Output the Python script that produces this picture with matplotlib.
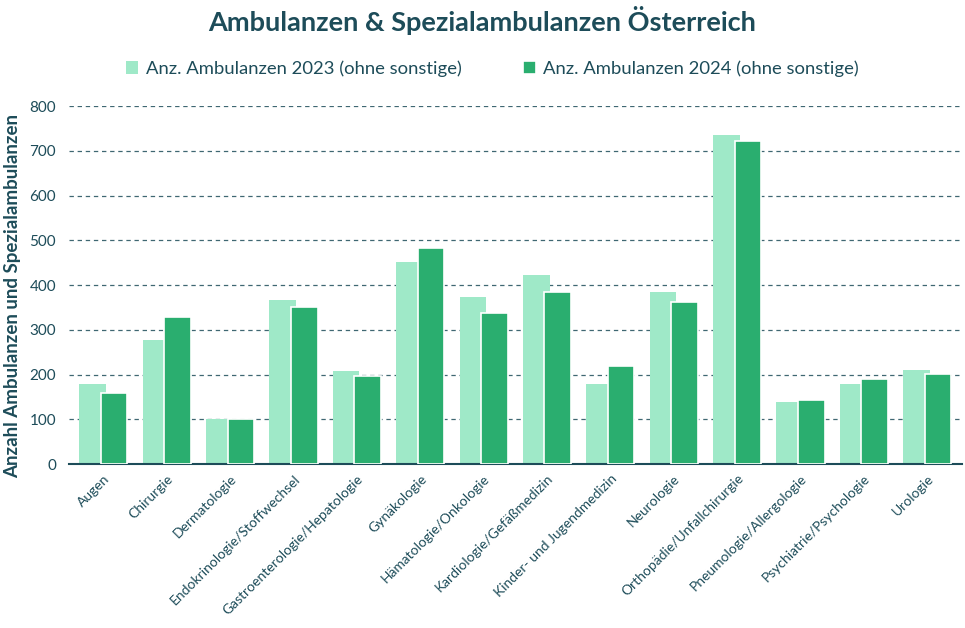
import matplotlib
matplotlib.use("Agg")
import matplotlib.pyplot as plt
import numpy as np

plt.rcParams['font.family'] = ['Lato', 'DejaVu Sans']

# data
categories = ["Augen", "Chirurgie", "Dermatologie", "Endokrinologie/Stoffwechsel",
              "Gastroenterologie/Hepatologie", "Gynäkologie", "Hämatologie/Onkologie",
              "Kardiologie/Gefäßmedizin", "Kinder- und Jugendmedizin", "Neurologie",
              "Orthopädie/Unfallchirurgie", "Pneumologie/Allergologie",
              "Psychiatrie/Psychologie", "Urologie"]
ambulanzen_2023 = [180, 277, 100, 367, 208, 452, 373, 423, 180, 385, 735, 139, 180, 211]
ambulanzen_2024 = [158, 328, 100, 352, 197, 482, 337, 385, 219, 362, 721, 143, 190, 201]
labels = ["Anz. Ambulanzen 2023 (ohne sonstige)", "Anz. Ambulanzen 2024 (ohne sonstige)"]

TEAL = "#1d4c59"
LIGHT = "#9fe9c8"
DARK = "#2aae6f"

fig, ax = plt.subplots(figsize=(9.65, 6.28), dpi=100)
fig.subplots_adjust(left=0.071, right=0.997, top=0.831, bottom=0.261)

x = np.arange(len(categories))
w = 0.42
ax.bar(x - 0.17, ambulanzen_2023, width=w, color=LIGHT, label=labels[0], zorder=2)
ax.bar(x + 0.17, ambulanzen_2024, width=w, color=DARK, edgecolor="white",
       linewidth=1.2, label=labels[1], zorder=3)

ax.set_ylim(0, 800)
ax.set_xlim(-0.55, len(categories) - 0.45)
ax.set_yticks(range(0, 801, 100))
ax.yaxis.grid(True, linestyle=(0, (3.5, 3)), color=TEAL, linewidth=0.9, alpha=0.85, zorder=0)
ax.set_axisbelow(True)

for side in ["top", "right", "left"]:
    ax.spines[side].set_visible(False)
ax.spines["bottom"].set_color(TEAL)
ax.spines["bottom"].set_linewidth(1.5)

ax.set_xticks(x)
ax.set_xticklabels(categories, rotation=45, ha="right", rotation_mode="anchor",
                   fontsize=10, color=TEAL)
ax.tick_params(axis="x", length=0, pad=6)
ax.tick_params(axis="y", length=0, labelsize=11, colors=TEAL, pad=9)

ax.set_ylabel("Anzahl Ambulanzen und Spezialambulanzen", fontsize=13.5,
              fontweight="bold", color=TEAL)
ax.yaxis.set_label_coords(-0.053, 0.47)

fig.suptitle("Ambulanzen & Spezialambulanzen Österreich", fontsize=19.5,
             fontweight="bold", color=TEAL, y=0.99)
leg = fig.legend(loc="upper center", bbox_to_anchor=(0.51, 0.93), ncol=2,
                 frameon=False, fontsize=13.3, handlelength=0.7, handleheight=0.7,
                 handletextpad=0.4, columnspacing=3.3)
for t in leg.get_texts():
    t.set_color(TEAL)

fig.savefig("out.png", dpi=100)
